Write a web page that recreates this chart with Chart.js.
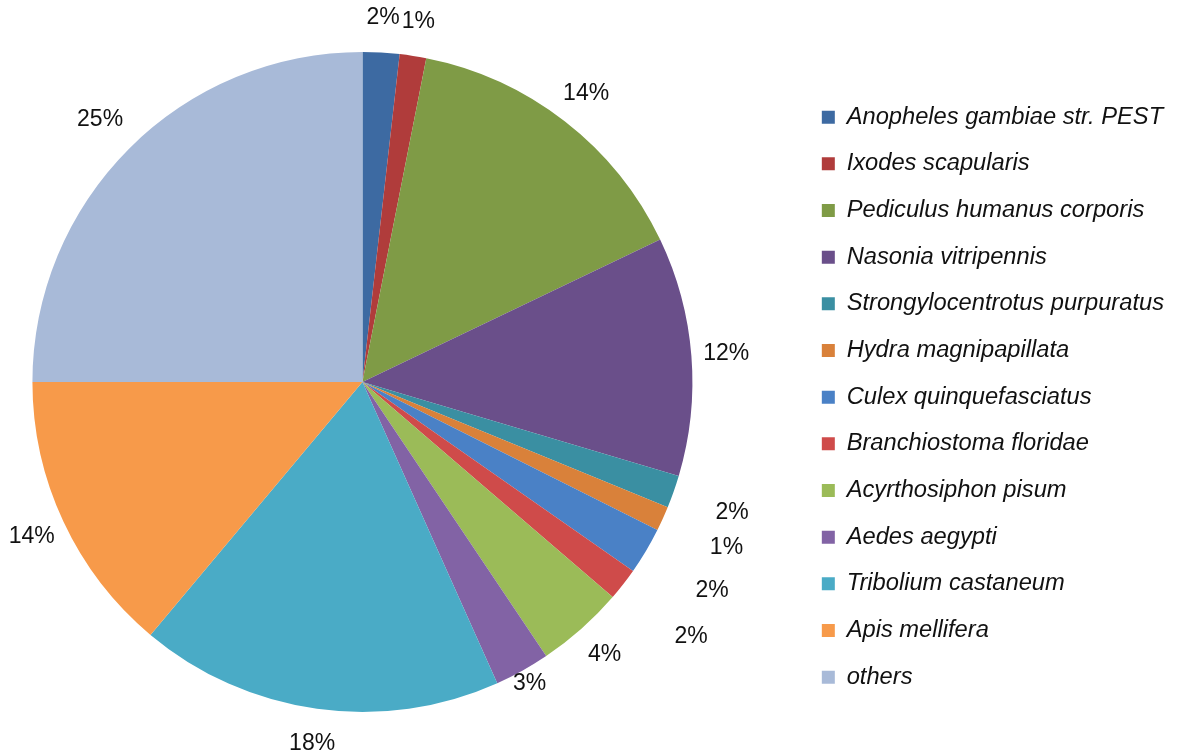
<!DOCTYPE html>
<html>
<head>
<meta charset="utf-8">
<script src="https://cdn.jsdelivr.net/npm/chart.js@4"></script>
<style>
  html, body { margin: 0; padding: 0; background: #fff; }
  #wrap { width: 1188px; height: 750px; }
</style>
</head>
<body>
<div id="wrap"><canvas id="species_chart"></canvas></div>
<script>
const species = [
    "Anopheles gambiae str. PEST", "Ixodes scapularis", "Pediculus humanus corporis",
    "Nasonia vitripennis", "Strongylocentrotus purpuratus", "Hydra magnipapillata",
    "Culex quinquefasciatus", "Branchiostoma floridae", "Acyrthosiphon pisum",
    "Aedes aegypti", "Tribolium castaneum", "Apis mellifera", "others"
];
const shares = [1.8, 1.3, 14.8, 11.7, 1.6, 1.2, 2.3, 1.6, 4.3, 2.7, 17.8, 13.9, 25.0];
const shareLabels = ["2%", "1%", "14%", "12%", "2%", "1%", "2%", "2%", "4%", "3%", "18%", "14%", "25%"];

const sliceColors = [
    "#3d6aa2", "#b03c3b", "#7f9b46", "#6a4f8a", "#3a8fa2", "#d9813a", "#4a81c6",
    "#cf4b4a", "#9bbb58", "#8263a5", "#4aabc6", "#f79a4a", "#a8bad8"
];

// extra radial push for the crowded labels on the lower right
const labelPush = [0, 0, 0, 0, 27, 35, 42, 51, 0, -20, 0, 0, 6];

// pie sits left of the middle of its area, so widen the area to the left
const shiftPie = {
    id: 'shiftPie',
    afterLayout(chart) {
        const area = chart.chartArea;
        area.left -= 74;
        area.width = area.right - area.left;
    }
};

const outsideLabels = {
    id: 'outsideLabels',
    afterDatasetsDraw(chart) {
        const ctx = chart.ctx;
        const arcs = chart.getDatasetMeta(0).data;
        ctx.save();
        ctx.font = '23px "Liberation Sans", Arial, sans-serif';
        ctx.fillStyle = '#111';
        ctx.textAlign = 'center';
        ctx.textBaseline = 'middle';
        arcs.forEach((arc, i) => {
            const p = arc.getProps(['x', 'y', 'startAngle', 'endAngle', 'outerRadius'], true);
            const mid = (p.startAngle + p.endAngle) / 2;
            const r = p.outerRadius + 35 + labelPush[i];
            ctx.fillText(shareLabels[i], p.x + Math.cos(mid) * r, p.y + Math.sin(mid) * r);
        });
        ctx.restore();
    }
};

const ctx = document.getElementById("species_chart");
const species_chart = new Chart(ctx, {
    type: 'pie',
    data: {
        labels: species,
        datasets: [{
            data: shares,
            backgroundColor: sliceColors,
            borderWidth: 0
        }]
    },
    options: {
        responsive: true,
        maintainAspectRatio: false,
        animation: false,
        layout: {
            padding: { top: 52, bottom: 38, left: 0, right: 14 }
        },
        plugins: {
            legend: {
                position: 'right',
                align: 'end',
                labels: {
                    boxWidth: 13,
                    boxHeight: 13,
                    padding: 22.97,
                    color: '#111',
                    font: { family: '"Liberation Sans", Arial, sans-serif', size: 23.7, style: 'italic' }
                }
            },
            tooltip: { enabled: false }
        }
    },
    plugins: [shiftPie, outsideLabels]
});
</script>
</body>
</html>
